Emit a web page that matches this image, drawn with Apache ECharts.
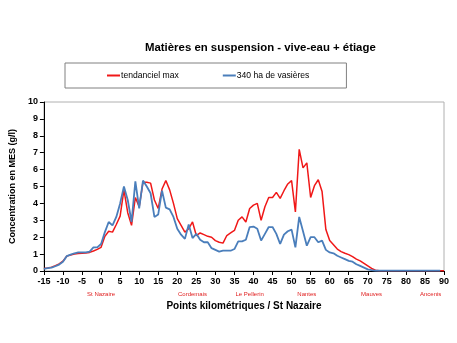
<!DOCTYPE html>
<html>
<head>
<meta charset="utf-8">
<script src="https://cdn.jsdelivr.net/npm/echarts@6/dist/echarts.min.js"></script>
<style>html,body{margin:0;padding:0;background:#fff}#c{width:457px;height:343px}</style>
</head>
<body>
<div id="c"></div>
<script>
const titleText = "Matières en suspension - vive-eau + étiage";
const seriesNames = ["tendanciel max", "340 ha de vasières"];
const kms = [-15,-14,-13,-12,-11,-10,-9,-8,-7,-6,-5,-4,-3,-2,-1,0,1,2,3,4,5,6,7,8,9,10,11,12,13,14,15,16,17,18,19,20,21,22,23,24,25,26,27,28,29,30,31,32,33,34,35,36,37,38,39,40,41,42,43,44,45,46,47,48,49,50,51,52,53,54,55,56,57,58,59,60,61,62,63,64,65,66,67,68,69,70,71,72,73,74,75,76,77,78,79,80,81,82,83,84,85,86,87,88,89,90];
const tendancielMax = [0.15,0.18,0.23,0.32,0.42,0.58,0.88,0.95,1.0,1.03,1.05,1.07,1.1,1.18,1.28,1.4,2.05,2.35,2.3,2.75,3.25,4.8,3.45,2.7,4.35,3.8,5.25,5.25,5.2,4.2,3.7,4.85,5.35,4.8,4.0,3.1,2.7,2.3,2.5,2.9,2.1,2.25,2.15,2.05,2.0,1.8,1.7,1.65,2.1,2.25,2.4,3.0,3.2,2.9,3.7,3.9,4.0,3.0,3.8,4.35,4.35,4.65,4.3,4.75,5.15,5.35,3.5,7.2,6.1,6.4,4.35,5.05,5.4,4.7,2.45,1.8,1.55,1.3,1.15,1.05,0.97,0.85,0.7,0.6,0.45,0.3,0.15,0.05,0.02,0.02,0.02,0.02,0.02,0.02,0.02,0.02,0.02,0.02,0.02,0.02,0.02,0.02,0.02,0.02,0.02,0.02];
const vasieres340 = [0.13,0.17,0.2,0.28,0.38,0.55,0.88,0.97,1.05,1.1,1.1,1.1,1.15,1.4,1.4,1.6,2.3,2.9,2.7,3.2,4.0,5.0,4.2,2.9,5.3,3.7,5.35,5.0,4.6,3.2,3.35,4.75,3.75,3.65,3.2,2.5,2.15,1.9,2.75,1.95,2.2,1.85,1.7,1.7,1.35,1.25,1.15,1.2,1.2,1.2,1.3,1.75,1.75,1.85,2.6,2.63,2.5,1.8,2.2,2.6,2.6,2.2,1.6,2.15,2.35,2.45,1.4,3.2,2.35,1.5,2.0,2.0,1.7,1.8,1.25,1.1,1.05,0.9,0.8,0.7,0.6,0.55,0.4,0.3,0.2,0.1,0.05,0.02,0.02,0.02,0.02,0.02,0.02,0.02,0.02,0.02,0.02,0.02,0.02,0.02,0.02,0.02,0.02,0.02,0.02];
const placeNames = ["St Nazaire", "Cordemais", "Le Pellerin", "Nantes", "Mauves", "Ancenis"];
const placeKms = [0, 24, 39, 54, 71, 86.5];
const xTitle = "Points kilométriques / St Nazaire";
const yTitle = "Concentration en MES (g/l)";

const font = "Liberation Sans, Arial, sans-serif";
const placeMap = {};
placeKms.forEach((k, i) => { placeMap[k.toFixed(1)] = placeNames[i]; });

const chart = echarts.init(document.getElementById('c'), null, {renderer: 'canvas'});
chart.setOption({
  backgroundColor: '#fff',
  animation: false,
  title: {
    text: titleText, left: 140, top: 37,
    textStyle: {fontFamily: font, fontSize: 11.4, fontWeight: 'bold', color: '#000'}
  },
  legend: {
    left: 65, top: 63,
    padding: [8, 37, 8, 42],
    borderColor: '#808080', borderWidth: 1,
    itemGap: 44, itemWidth: 13, itemHeight: 2, icon: 'rect',
    textStyle: {fontFamily: font, fontSize: 8.6, color: '#000', padding: [0,0,0,-4]},
    data: seriesNames
  },
  grid: {left: 41, right: 13, top: 102, bottom: 72, show: true, borderColor: '#b0b0b0', borderWidth: 1, containLabel: false},
  xAxis: [{
    type: 'value', min: -15, max: 90, interval: 5,
    axisLine: {show: true, onZero: false, lineStyle: {color: '#000', width: 1}},
    axisTick: {show: true, length: 4, lineStyle: {color: '#000'}},
    axisLabel: {fontFamily: font, fontSize: 9, fontWeight: 'bold', color: '#000', margin: 6},
    splitLine: {show: false},
    name: xTitle, nameLocation: 'middle', nameGap: 30,
    nameTextStyle: {fontFamily: font, fontSize: 10, fontWeight: 'bold', color: '#000'}
  }, {
    type: 'value', min: -15, max: 90, interval: 0.5, position: 'bottom', gridIndex: 0,
    axisLine: {show: false, onZero: false}, axisTick: {show: false}, splitLine: {show: false},
    axisLabel: {
      fontFamily: font, fontSize: 6, color: '#e02020', margin: 20,
      showMinLabel: false, showMaxLabel: false,
      formatter: v => placeMap[Number(v).toFixed(1)] || ''
    }
  }],
  yAxis: {
    type: 'value', min: 0, max: 10, interval: 1,
    axisLine: {show: true, onZero: false, lineStyle: {color: '#000', width: 1}},
    axisTick: {show: true, length: 4, lineStyle: {color: '#000'}},
    axisLabel: {fontFamily: font, fontSize: 9, fontWeight: 'bold', color: '#000', margin: 6},
    splitLine: {show: false},
    name: yTitle, nameLocation: 'middle', nameGap: 26, nameRotate: 90,
    nameTextStyle: {fontFamily: font, fontSize: 9, fontWeight: 'bold', color: '#000'}
  },
  series: [{
    name: seriesNames[0], type: 'line', xAxisIndex: 0,
    data: kms.map((k, i) => [k, tendancielMax[i]]),
    symbol: 'none', lineStyle: {color: '#f01818', width: 1.5}, itemStyle: {color: '#f01818'}
  }, {
    name: seriesNames[1], type: 'line', xAxisIndex: 0,
    data: kms.map((k, i) => [k, vasieres340[i]]),
    symbol: 'none', lineStyle: {color: '#4a7ebb', width: 1.8}, itemStyle: {color: '#4a7ebb'}
  }]
});
</script>
</body>
</html>
